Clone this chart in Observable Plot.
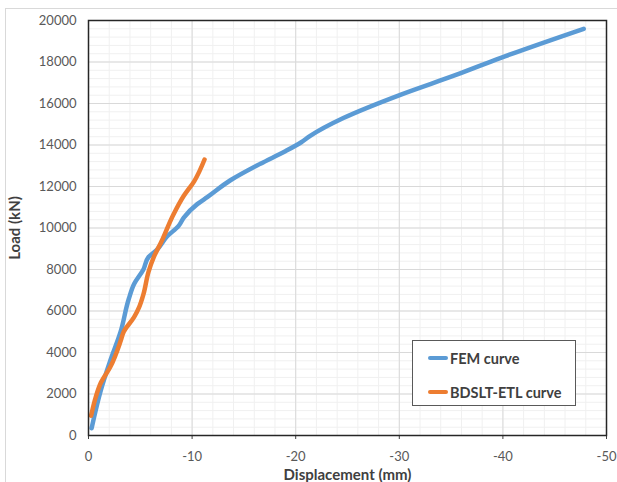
<!DOCTYPE html>
<html>
<head>
<meta charset="utf-8">
<script src="https://cdn.jsdelivr.net/npm/d3@7"></script>
<script src="https://cdn.jsdelivr.net/npm/@observablehq/plot@0.6"></script>
<style>
  html, body { margin: 0; padding: 0; background: #fff; }
  #wrap { position: relative; width: 617px; height: 482px; overflow: hidden; font-family: Lato, "Open Sans", sans-serif; }
  #border { position: absolute; left: 5px; top: 8px; width: 640px; height: 500px; border-left: 1px solid #d9d9d9; border-top: 1px solid #d9d9d9; }
  #chart { position: absolute; left: 0; top: 0; }
  #chart svg g[aria-label="x-axis label"] text,
  #chart svg g[aria-label="y-axis label"] text { font-weight: bold; fill: #404040; font-size: 15px; }
  #legend { position: absolute; left: 412px; top: 340px; width: 164px; height: 66px; border: 1px solid #595959; background: #fff; box-sizing: border-box; }
  .li { position: absolute; left: 15px; height: 18px; display: flex; align-items: center; font-weight: bold; font-size: 14.5px; color: #404040; }
  .sw { width: 20px; height: 4px; border-radius: 2px; margin-right: 2px; }
</style>
</head>
<body>
<div id="wrap">
  <div id="border"></div>
  <div id="chart"></div>
  <div id="legend"></div>
</div>
<script>
// Series names and colors
const seriesNames = ["FEM curve", "BDSLT-ETL curve"];
const seriesColors = ["#5B9BD5", "#ED7D31"];

// FEM curve: displacement (mm) and load (kN)
const femDisp = [-0.3, -1.2, -2.1, -3.1, -3.9, -4.4, -5.3, -5.8, -6.6, -7.6, -8.7, -9.2, -10.5, -11.5, -13.7, -16.6, -19.0, -20.5, -21.4, -24.6, -30.1, -35.6, -39.8, -47.8];
const femLoad = [350, 2200, 3600, 5000, 6600, 7300, 8000, 8600, 8950, 9600, 10100, 10500, 11150, 11500, 12300, 13100, 13700, 14120, 14440, 15300, 16420, 17400, 18200, 19600];

// BDSLT-ETL curve
const etlDisp = [-0.25, -0.7, -1.2, -2.1, -3.1, -3.4, -4.4, -4.9, -5.3, -5.8, -6.3, -7.0, -8.2, -9.2, -10.2, -11.2];
const etlLoad = [950, 1850, 2550, 3300, 4550, 5000, 5700, 6200, 6800, 7900, 8600, 9300, 10650, 11550, 12250, 13300];

// Tick values
const xTicks = [0, -10, -20, -30, -40, -50];
const yTicks = [0, 2000, 4000, 6000, 8000, 10000, 12000, 14000, 16000, 18000, 20000];

const fem = femDisp.map((d, i) => ({x: d, y: femLoad[i]}));
const etl = etlDisp.map((d, i) => ({x: d, y: etlLoad[i]}));

const xMinor = d3.range(0, -50.001, -2);
const yMinor = d3.range(0, 20000.001, 400);

const chart = Plot.plot({
  width: 617,
  height: 482,
  marginLeft: 88,
  marginRight: 11,
  marginTop: 20,
  marginBottom: 47,
  style: { fontFamily: "Lato, 'Open Sans', sans-serif", fontSize: "13px", color: "#595959", background: "transparent" },
  x: { domain: [0, -50] },
  y: { domain: [0, 20000] },
  marks: [
    Plot.ruleX(xMinor, { stroke: "#f0f0f0", strokeWidth: 1 }),
    Plot.ruleY(yMinor, { stroke: "#f0f0f0", strokeWidth: 1 }),
    Plot.ruleX(xTicks, { stroke: "#d9d9d9", strokeWidth: 1 }),
    Plot.ruleY(yTicks, { stroke: "#d9d9d9", strokeWidth: 1 }),
    Plot.axisX({ ticks: xTicks, tickFormat: d => String(d), tickSize: 4, tickPadding: 12, stroke: "#404040",
      label: "Displacement (mm)", labelAnchor: "center", labelOffset: 44, labelArrow: "none" }),
    Plot.axisY({ ticks: yTicks, tickFormat: d => String(d), tickSize: 0, tickPadding: 12,
      label: "Load (kN)", labelAnchor: "center", labelOffset: 79, labelArrow: "none" }),
    Plot.line(fem, { x: "x", y: "y", stroke: seriesColors[0], strokeWidth: 4.5, curve: "monotone-y", strokeLinecap: "round", strokeLinejoin: "round" }),
    Plot.line(etl, { x: "x", y: "y", stroke: seriesColors[1], strokeWidth: 4.5, curve: "monotone-y", strokeLinecap: "round", strokeLinejoin: "round" }),
    Plot.frame({ stroke: "#262626", strokeWidth: 1.5 })
  ]
});
document.getElementById("chart").appendChild(chart);

// Legend
const legend = document.getElementById("legend");
seriesNames.forEach((name, i) => {
  const item = document.createElement("div");
  item.className = "li";
  item.style.top = (8 + i * 34) + "px";
  const sw = document.createElement("span");
  sw.className = "sw";
  sw.style.background = seriesColors[i];
  item.appendChild(sw);
  item.appendChild(document.createTextNode(name));
  legend.appendChild(item);
});
</script>
</body>
</html>
